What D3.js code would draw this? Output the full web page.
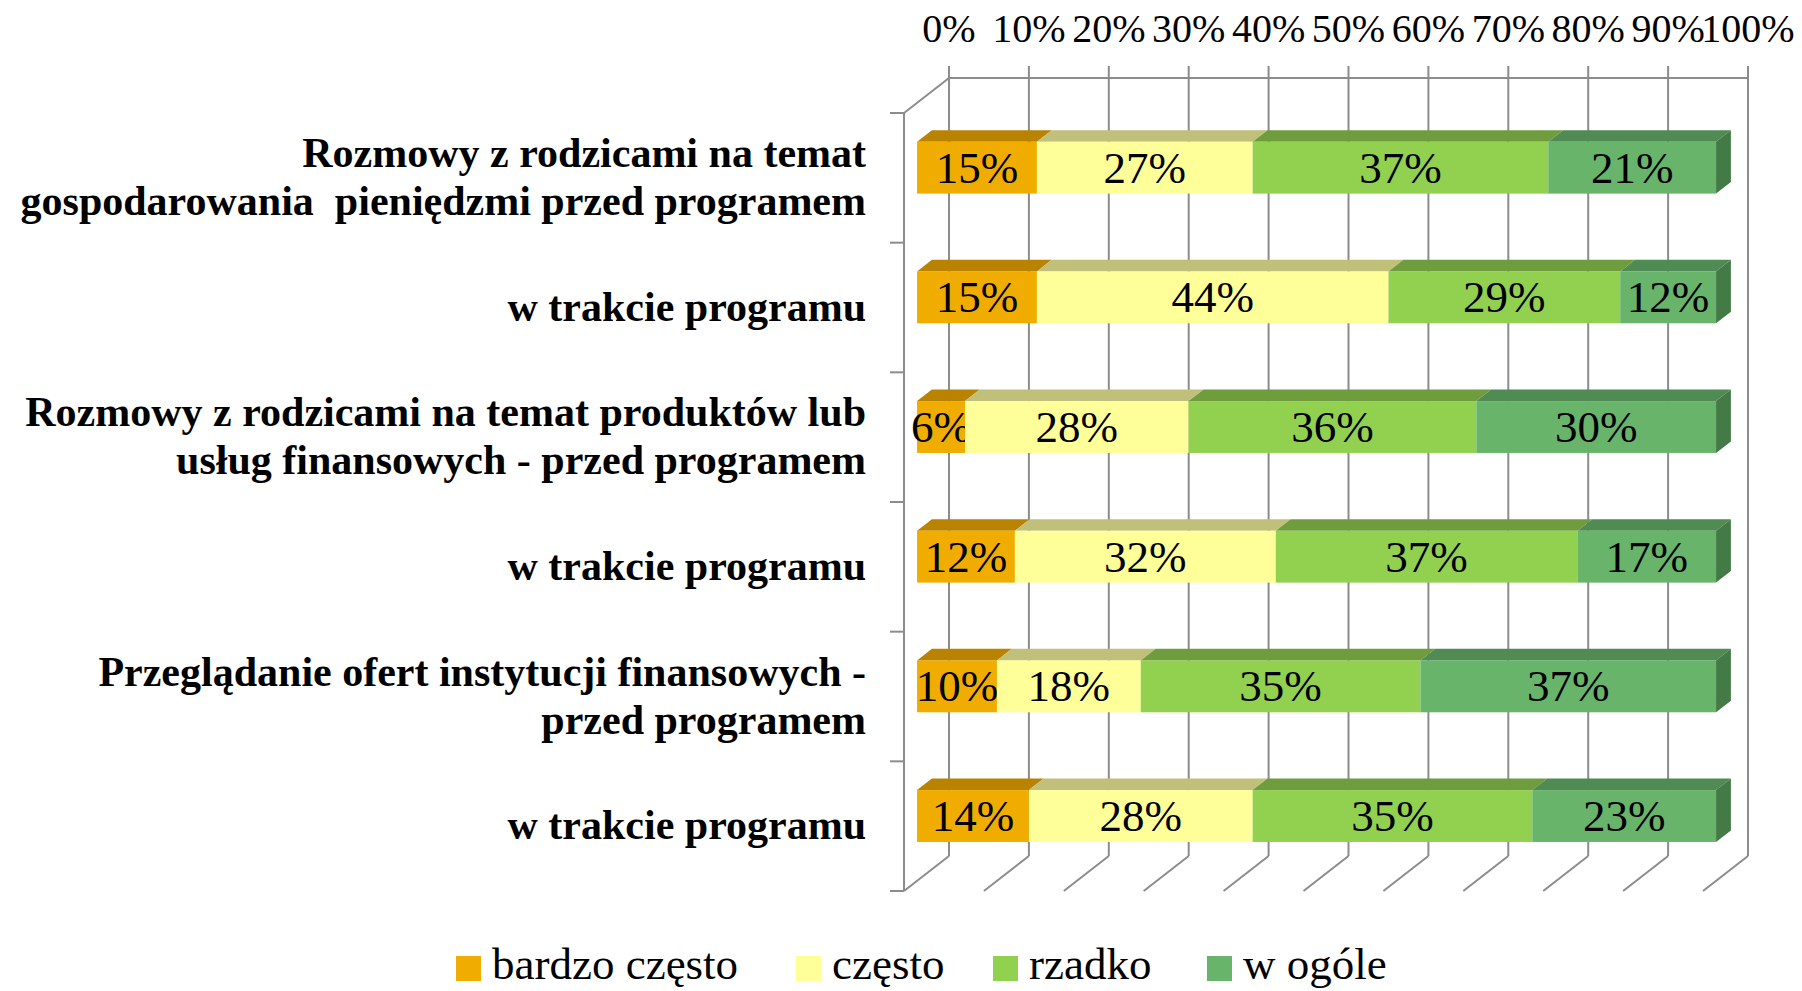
<!DOCTYPE html>
<html>
<head>
<meta charset="utf-8">
<script src="https://cdn.jsdelivr.net/npm/d3@7"></script>
<style>
  html, body { margin: 0; padding: 0; background: #ffffff; }
  svg { display: block; }
  text { font-family: "Liberation Serif", "Times New Roman", serif; fill: #000; }
</style>
</head>
<body>
<svg id="chart" width="1802" height="991"></svg>
<script>
// Categories (two-line labels split by "\n")
const categories = [
  "Rozmowy z rodzicami na temat\ngospodarowania  pieniędzmi przed programem",
  "w trakcie programu",
  "Rozmowy z rodzicami na temat produktów lub\nusług finansowych - przed programem",
  "w trakcie programu",
  "Przeglądanie ofert instytucji finansowych -\nprzed programem",
  "w trakcie programu"
];

const seriesNames = ["bardzo często", "często", "rzadko", "w ogóle"];

// Percent answers per category, one array per series
const bardzoCzesto = [15, 15, 6, 12, 10, 14];
const czesto       = [27, 44, 28, 32, 18, 28];
const rzadko       = [37, 29, 36, 37, 35, 35];
const wOgole       = [21, 12, 30, 17, 37, 23];

const tickLabels = ["0%", "10%", "20%", "30%", "40%", "50%", "60%", "70%", "80%", "90%", "100%"];

// Front / top / side shades for each series
const frontColors = ["#F0AD00", "#FFFF99", "#92D050", "#69B46B"];
const topColors   = ["#B98300", "#C0C07A", "#6F9C3D", "#4F8B52"];
const sideColors  = ["#8E6500", "#9A9A60", "#557A2E", "#437A46"];

const rows = categories.map((c, i) => ({
  cat: i,
  [seriesNames[0]]: bardzoCzesto[i],
  [seriesNames[1]]: czesto[i],
  [seriesNames[2]]: rzadko[i],
  [seriesNames[3]]: wOgole[i]
}));

// 100% stacked layout
const stacked = d3.stack()
  .keys(seriesNames)
  .offset(d3.stackOffsetExpand)(rows);

const svg = d3.select("#chart");

// Back wall plane
const x = d3.scaleLinear().domain([0, 1]).range([949, 1748]);
const y = d3.scaleBand().domain(d3.range(categories.length)).range([78, 856]).paddingInner(0.6).paddingOuter(0.3);
const yCat = d3.scaleBand().domain(d3.range(categories.length)).range([78, 856]);

// Oblique depth vector (back wall -> front edge)
const DX = -45, DY = 35;
const P = (px, py, d) => [px + DX * d, py + DY * d];
const dFront = 0.71, dBack = 0.38;

const gridColor = "#8C8C8C";
const grid = svg.append("g").attr("stroke", gridColor).attr("stroke-width", 2).attr("fill", "none");

const ticks = d3.range(0, 1.0001, 0.1);
// vertical gridlines on the back wall, and floor lines running forward
ticks.forEach(t => {
  grid.append("line").attr("x1", x(t)).attr("x2", x(t)).attr("y1", 66).attr("y2", 856);
  const f = P(x(t), 856, 1);
  grid.append("line").attr("x1", x(t)).attr("y1", 856).attr("x2", f[0]).attr("y2", f[1]);
});
// top edge of the back wall
grid.append("line").attr("x1", x(0)).attr("x2", x(1)).attr("y1", 78).attr("y2", 78);
// left wall: front edge and top edge
const lt = P(x(0), 78, 1), lb = P(x(0), 856, 1);
grid.append("line").attr("x1", lt[0]).attr("y1", lt[1]).attr("x2", lb[0]).attr("y2", lb[1]);
grid.append("line").attr("x1", x(0)).attr("y1", 78).attr("x2", lt[0]).attr("y2", lt[1]);
// category tick marks on the left wall
d3.range(categories.length + 1).forEach(i => {
  const yy = (i < categories.length ? yCat(i) : 856);
  const p = P(x(0), yy, 1);
  grid.append("line").attr("x1", p[0] - 14).attr("x2", p[0]).attr("y1", p[1]).attr("y2", p[1]);
});

// Value axis labels along the top
svg.append("g").selectAll("text").data(ticks).join("text")
  .attr("x", (d) => x(d))
  .attr("y", 42)
  .attr("text-anchor", "middle")
  .attr("font-size", 40)
  .text((d, i) => tickLabels[i]);

// Bars
const bars = svg.append("g");
stacked.forEach((layer, si) => {
  layer.forEach((seg, ci) => {
    const x0 = x(seg[0]), x1 = x(seg[1]);
    const yt = y(ci), yb = y(ci) + y.bandwidth();
    const g = bars.append("g");
    const ft = P(0, yt, dFront)[1], fb = P(0, yb, dFront)[1];
    const fx0 = P(x0, 0, dFront)[0], fx1 = P(x1, 0, dFront)[0];
    const bx0 = P(x0, 0, dBack)[0], bx1 = P(x1, 0, dBack)[0];
    const bt = P(0, yt, dBack)[1], bb = P(0, yb, dBack)[1];
    // top face
    g.append("path")
      .attr("d", `M${fx0},${ft}L${bx0},${bt}L${bx1},${bt}L${fx1},${ft}Z`)
      .attr("fill", topColors[si]);
    // right side face on the last segment
    if (si === stacked.length - 1) {
      g.append("path")
        .attr("d", `M${fx1},${ft}L${bx1},${bt}L${bx1},${bb}L${fx1},${fb}Z`)
        .attr("fill", sideColors[si]);
    }
    // front face
    g.append("rect")
      .attr("x", fx0).attr("y", ft)
      .attr("width", fx1 - fx0).attr("height", fb - ft)
      .attr("fill", frontColors[si]);
    // value label
    g.append("text")
      .attr("x", (fx0 + fx1) / 2)
      .attr("y", (ft + fb) / 2 + 15)
      .attr("text-anchor", "middle")
      .attr("font-size", 45)
      .text(seg.data[seriesNames[si]] + "%");
  });
});

// Category labels
const catG = svg.append("g");
categories.forEach((c, i) => {
  const cy = yCat(i) + yCat.bandwidth() / 2 + DY;
  const lines = c.split("\n");
  const lh = 48;
  lines.forEach((ln, k) => {
    catG.append("text")
      .attr("x", 866)
      .attr("y", cy + (k - (lines.length - 1) / 2) * lh + 13)
      .attr("text-anchor", "end")
      .attr("font-size", 42)
      .attr("font-weight", "bold")
      .attr("xml:space", "preserve")
      .style("white-space", "pre")
      .text(ln);
  });
});

// Legend
const legendX = [456, 796, 993, 1207];
const lg = svg.append("g");
seriesNames.forEach((s, i) => {
  lg.append("rect").attr("x", legendX[i]).attr("y", 956).attr("width", 25).attr("height", 25).attr("fill", frontColors[i]);
  lg.append("text").attr("x", legendX[i] + 36).attr("y", 979).attr("font-size", 45).text(s);
});
</script>
</body>
</html>
